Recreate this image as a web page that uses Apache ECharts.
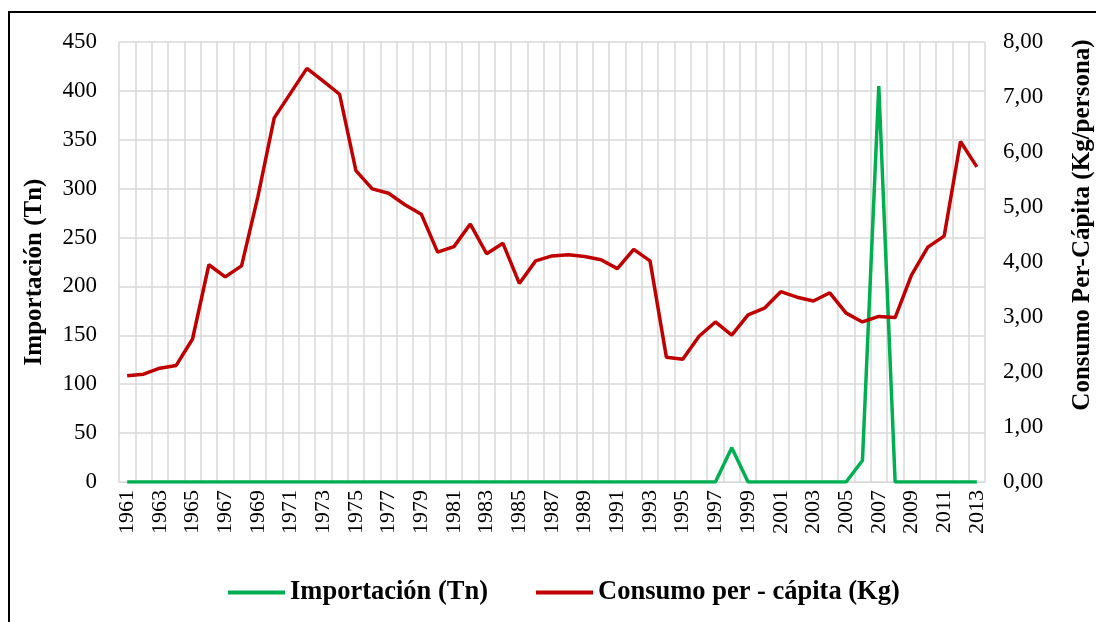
<!DOCTYPE html>
<html lang="es">
<head>
  <meta charset="UTF-8">
  <title>Importación y consumo per cápita</title>
  <script src="https://cdn.jsdelivr.net/npm/echarts@6/dist/echarts.min.js"></script>
  <style>
    html, body {
      margin: 0;
      padding: 0;
      background: #fff;
      overflow: hidden;
    }

    #frame {
      position: absolute;
      left: 8px;
      top: 11px;
      width: 2000px;
      height: 2000px;
      border: 2px solid #000;
    }

    #chart {
      position: absolute;
      left: 0;
      top: 0;
      width: 1096px;
      height: 622px;
    }
  </style>
</head>
<body>
  <div id="frame"></div>
  <div id="chart"></div>
  <script>
    var years = []
    for (var y = 1961; y <= 2013; y++) years.push(String(y))

    // Importación (Tn)
    var importacion = [
      0, 0, 0, 0, 0, 0, 0, 0, 0, 0,
      0, 0, 0, 0, 0, 0, 0, 0, 0, 0,
      0, 0, 0, 0, 0, 0, 0, 0, 0, 0,
      0, 0, 0, 0, 0, 0, 0, 35, 0, 0,
      0, 0, 0, 0, 0, 22, 405, 0, 0, 0,
      0, 0, 0
    ]

    // Consumo per - cápita (Kg)
    var consumo = [
      1.93, 1.96, 2.07, 2.12, 2.60, 3.95, 3.73, 3.93, 5.19, 6.62,
      7.07, 7.52, 7.29, 7.05, 5.66, 5.33, 5.25, 5.04, 4.87, 4.18,
      4.28, 4.69, 4.15, 4.34, 3.61, 4.02, 4.11, 4.13, 4.10, 4.04,
      3.88, 4.23, 4.02, 2.27, 2.23, 2.65, 2.91, 2.67, 3.04, 3.16,
      3.46, 3.36, 3.29, 3.44, 3.07, 2.91, 3.01, 2.99, 3.76, 4.27,
      4.47, 6.19, 5.73
    ]

    var font = 'Liberation Serif, Times New Roman, serif'

    var chart = echarts.init(document.getElementById('chart'))
    chart.setOption({
      animation: false,
      textStyle: { fontFamily: font, color: '#000' },
      grid: { left: 119, right: 111, top: 42, bottom: 140, outerBoundsMode: 'none' },
      legend: {
        left: 228,
        top: 579,
        padding: 0,
        icon: 'rect',
        itemWidth: 57,
        itemHeight: 4,
        itemGap: 48,
        textStyle: { fontFamily: font, fontSize: 26.5, fontWeight: 'bold', color: '#000' },
        data: ['Importación (Tn)', 'Consumo per - cápita (Kg)']
      },
      xAxis: {
        type: 'category',
        data: years,
        boundaryGap: true,
        axisLine: { lineStyle: { color: '#d9d9d9', width: 1 } },
        axisTick: { show: false },
        axisLabel: {
          interval: 1,
          rotate: 90,
          margin: 8,
          fontFamily: font,
          fontSize: 22,
          color: '#000'
        },
        splitLine: {
          show: true,
          interval: 0,
          lineStyle: { color: '#d9d9d9', width: 1.5 }
        }
      },
      yAxis: [
        {
          type: 'value',
          min: 0,
          max: 450,
          interval: 50,
          name: 'Importación (Tn)',
          nameLocation: 'middle',
          nameRotate: 90,
          nameGap: 72,
          nameTextStyle: {
            fontFamily: font,
            fontSize: 25,
            fontWeight: 'bold',
            color: '#000',
            padding: [0, 20, 0, 0]
          },
          axisLine: { show: false },
          axisTick: { show: false },
          axisLabel: { margin: 22, fontFamily: font, fontSize: 23, color: '#000' },
          splitLine: { lineStyle: { color: '#d9d9d9', width: 1.5 } }
        },
        {
          type: 'value',
          min: 0,
          max: 8,
          interval: 1,
          position: 'right',
          name: 'Consumo Per-Cápita (Kg/persona)',
          nameLocation: 'middle',
          nameRotate: 90,
          nameGap: 85,
          nameTextStyle: {
            fontFamily: font,
            fontSize: 25,
            fontWeight: 'bold',
            color: '#000',
            padding: [0, 0, 0, 74]
          },
          axisLine: { show: false },
          axisTick: { show: false },
          axisLabel: {
            margin: 18,
            fontFamily: font,
            fontSize: 23,
            color: '#000',
            formatter: function (v) {
              return v.toFixed(2).replace('.', ',')
            }
          },
          splitLine: { show: false }
        }
      ],
      series: [
        {
          name: 'Importación (Tn)',
          type: 'line',
          yAxisIndex: 0,
          data: importacion,
          showSymbol: false,
          symbol: 'none',
          color: '#00b050',
          lineStyle: { width: 3.5, color: '#00b050' }
        },
        {
          name: 'Consumo per - cápita (Kg)',
          type: 'line',
          yAxisIndex: 1,
          data: consumo,
          showSymbol: false,
          symbol: 'none',
          color: '#c00000',
          lineStyle: { width: 3.5, color: '#c00000' }
        }
      ]
    })
  </script>
</body>
</html>
